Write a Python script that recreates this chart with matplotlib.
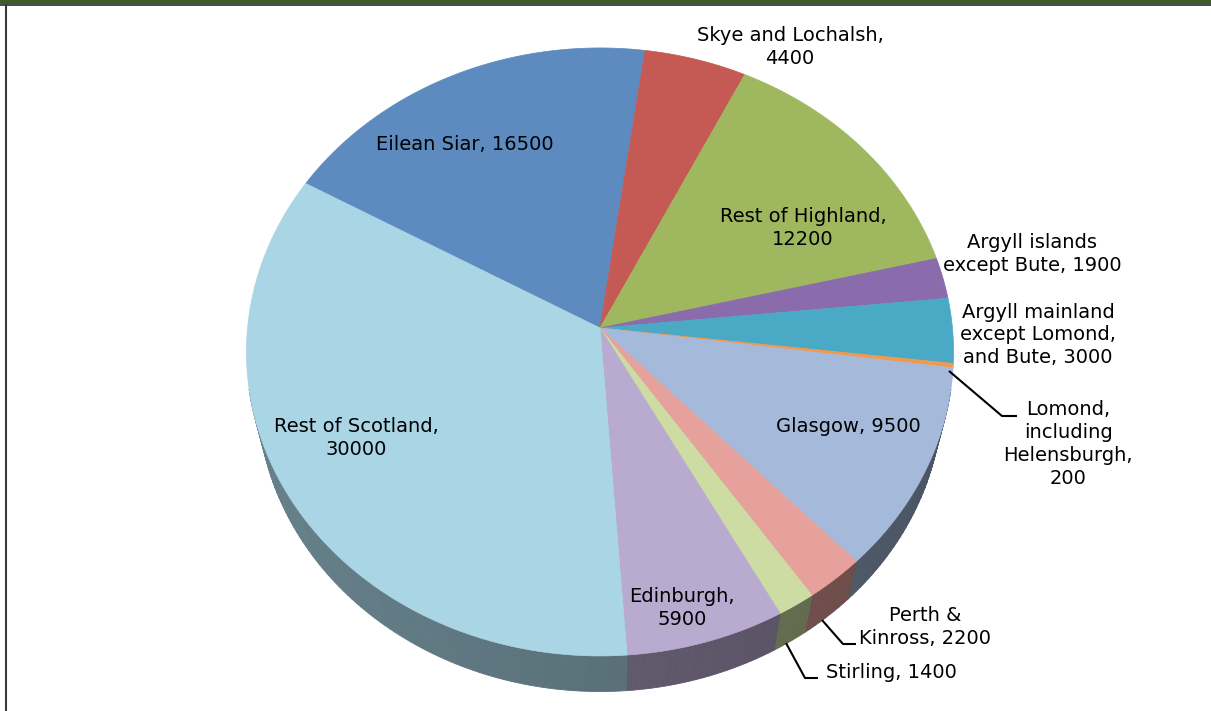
import numpy as np
import matplotlib
matplotlib.use("Agg")
import matplotlib.pyplot as plt
from matplotlib.patches import Polygon, Rectangle
from matplotlib.colors import to_rgb

# Regions, in clockwise drawing order
regions = [
    "Eilean Siar", "Skye and Lochalsh", "Rest of Highland",
    "Argyll islands except Bute", "Argyll mainland except Lomond, and Bute",
    "Lomond, including Helensburgh", "Glasgow", "Perth & Kinross",
    "Stirling", "Edinburgh", "Rest of Scotland",
]
values = [16500, 4400, 12200, 1900, 3000, 200, 9500, 2200, 1400, 5900, 30000]
label_texts = [
    "Eilean Siar, 16500",
    "Skye and Lochalsh,\n4400",
    "Rest of Highland,\n12200",
    "Argyll islands\nexcept Bute, 1900",
    "Argyll mainland\nexcept Lomond,\nand Bute, 3000",
    "Lomond,\nincluding\nHelensburgh,\n200",
    "Glasgow, 9500",
    "Perth &\nKinross, 2200",
    "Stirling, 1400",
    "Edinburgh,\n5900",
    "Rest of Scotland,\n30000",
]
top_colors = [
    "#5d8bbf", "#c55a54", "#9fb75e", "#8a6bab", "#4aaac6", "#f3994f",
    "#a5b9da", "#e6a19c", "#ccdca2", "#b9aacf", "#a9d5e5",
]

# label anchor positions (pixel coords) and optional leader lines
label_pos = {
    0: (465, 144), 1: (790, 47), 2: (803, 228), 3: (1032, 254),
    4: (1038, 335), 5: (1068, 444), 6: (848, 427), 7: (925, 627),
    8: (891, 672), 9: (682, 608), 10: (356, 438),
}
leaders = {
    5: [(949, 371), (1002, 416), (1017, 416)],
    7: [(822, 620), (843, 644), (856, 644)],
    8: [(786, 643), (805, 678), (818, 678)],
}

W, H = 1211, 711
fig = plt.figure(figsize=(W / 100, H / 100), dpi=100)
ax = fig.add_axes([0, 0, 1, 1])
ax.set_xlim(0, W)
ax.set_ylim(H, 0)
ax.axis("off")

# perspective camera for the 3D pie
CX, CY = 600.0, 328.0
phi = np.radians(59.0)
S, C = np.sin(phi), np.cos(phi)
D = 6.54
F = 2305.0
THICK = 0.245
START = -60.2


def project(x, y, z):
    depth = D + y * C - z * S
    u = F * x / depth
    v = F * (y * S + z * C) / depth
    return CX + u, CY - v


total = float(sum(values))
bounds = START + 360.0 * np.concatenate([[0], np.cumsum(values)]) / total


def darker(col, k):
    r, g, b = to_rgb(col)
    return (r * k, g * k, b * k)


# side walls, drawn as thin strips shaded by orientation
strips = []
for i, col in enumerate(top_colors):
    a0, a1 = bounds[i], bounds[i + 1]
    n = max(2, int((a1 - a0) / 1.0) + 1)
    ts = np.radians(np.linspace(a0, a1, n))
    for ta, tb in zip(ts[:-1], ts[1:]):
        tm = 0.5 * (ta + tb)
        if np.cos(tm) > -0.2:
            continue
        xa, ya = np.sin(ta), np.cos(ta)
        xb, yb = np.sin(tb), np.cos(tb)
        p1 = project(xa, ya, 0)
        p2 = project(xb, yb, 0)
        p3 = project(xb, yb, -THICK)
        p4 = project(xa, ya, -THICK)
        k = 0.53 - 0.08 * np.sin(tm)
        strips.append((np.cos(tm), [p1, p2, p3, p4], darker(col, k)))
strips.sort(key=lambda s: -s[0])
for _, pts, c in strips:
    ax.add_patch(Polygon(pts, closed=True, facecolor=c, edgecolor=c,
                         linewidth=0.6, antialiased=True))

# top faces
for i, col in enumerate(top_colors):
    a0, a1 = bounds[i], bounds[i + 1]
    n = max(3, int((a1 - a0) / 0.5) + 1)
    ts = np.radians(np.linspace(a0, a1, n))
    pts = [project(0, 0, 0)] + [project(np.sin(t), np.cos(t), 0) for t in ts]
    ax.add_patch(Polygon(pts, closed=True, facecolor=col, edgecolor=col,
                         linewidth=0.5, antialiased=True))

# data labels
for i, txt in enumerate(label_texts):
    x, y = label_pos[i]
    ax.text(x, y, txt, ha="center", va="center", fontsize=14,
            family="DejaVu Sans", color="#000000", linespacing=1.25)
for i, pts in leaders.items():
    xs, ys = zip(*pts)
    ax.plot(xs, ys, color="#000000", linewidth=1.5, solid_capstyle="butt")

# frame: green top band and dark border lines
ax.add_patch(Rectangle((0, 0), W, 4.2, facecolor="#3d5c2a", edgecolor="none"))
ax.plot([0, W], [4.8, 4.8], color="#2a2a2a", linewidth=1.2)
ax.plot([5.8, 5.8], [4.8, H], color="#3a3a3a", linewidth=1.5)

fig.savefig("out.png", dpi=100, facecolor="white")
